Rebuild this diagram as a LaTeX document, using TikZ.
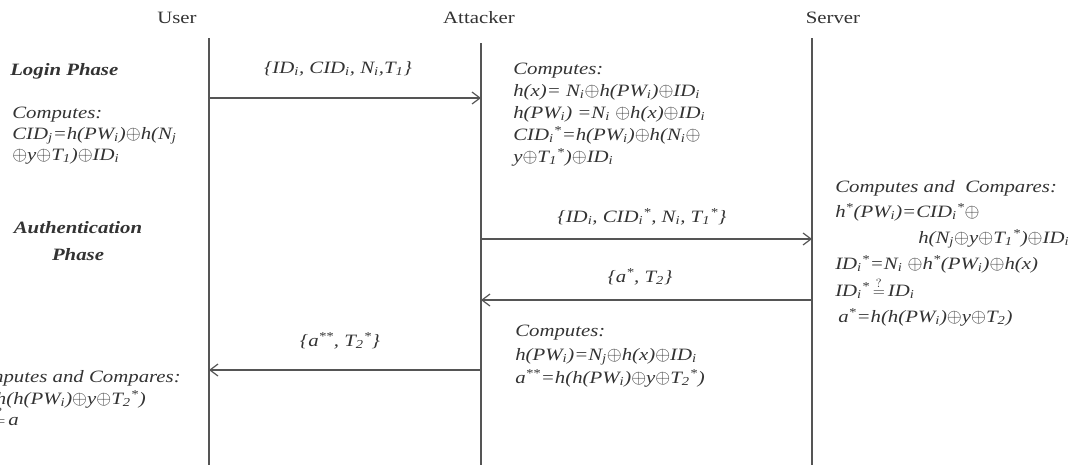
\documentclass[tikz,border=0pt]{standalone}
\usepackage{fontspec}
\setmainfont{Liberation Serif}[FakeStretch=1.2]
\usetikzlibrary{arrows.meta}
\definecolor{ink}{HTML}{333333}
\definecolor{ln}{HTML}{555555}
\newcommand\xo{\scalebox{1.2}{$\oplus$}}
\newcommand\mysub[1]{\textsubscript{#1}}
\newcommand\mysup[1]{\textsuperscript{#1}}
\newcommand\qeq{\,$\stackrel{?}{=}$\,}
\begin{document}
\begin{tikzpicture}[x=0.75pt,y=-0.75pt,
  txt/.style={inner sep=0pt, anchor=base west, text=ink, font=\fontsize{13}{16}\selectfont\itshape},
  hd/.style={txt, font=\fontsize{13}{16}\selectfont\bfseries\itshape},
  actor/.style={inner sep=0pt, anchor=base, text=ink, font=\fontsize{13}{16}\selectfont},
  lab/.style={txt, anchor=base},
  life/.style={draw=ln, line width=1pt},
  msg/.style={draw=ln, line width=1pt, -{Straight Barb[length=6pt,width=9pt,line width=0.9pt]}}]
\useasboundingbox (0,0) rectangle (1085,465);
\clip (0,0) rectangle (1085,465);
% actors
\node[actor] (user) at (177,23) {User};
\node[actor] (att) at (479,23) {Attacker};
\node[actor] (srv) at (833,23) {Server};
% lifelines
\coordinate (uT) at (209,38); \coordinate (uB) at (209,465);
\coordinate (aT) at (481,43); \coordinate (aB) at (481,465);
\coordinate (sT) at (812,38); \coordinate (sB) at (812,465);
\draw[life] (uT) -- (uB);
\draw[life] (aT) -- (aB);
\draw[life] (sT) -- (sB);
% message end points
\coordinate (u1) at (209,98);  \coordinate (a1) at (481,98);
\coordinate (a2) at (481,239); \coordinate (s2) at (812,239);
\coordinate (s3) at (812,300); \coordinate (a3) at (481,300);
\coordinate (a4) at (481,370); \coordinate (u4) at (209,370);
\draw[msg] (u1) -- (a1);
\draw[msg] (a2) -- (s2);
\draw[msg] (s3) -- (a3);
\draw[msg] (a4) -- (u4);
% message labels
\node[lab] (m1) at (338,73) {\{ID\mysub{i}, CID\mysub{i}, N\mysub{i},T\mysub{1}\}};
\node[lab] (m2) at (642,222) {\{ID\mysub{i}, CID\mysub{i}\mysup{*}, N\mysub{i}, T\mysub{1}\mysup{*}\}};
\node[lab] (m3) at (640,282) {\{a\mysup{*}, T\mysub{2}\}};
\node[lab] (m4) at (340,346) {\{a\mysup{**}, T\mysub{2}\mysup{*}\}};
% user side
\node[hd] (lp) at (10,75) {Login Phase};
\node[txt] (uc1) at (12,118) {Computes:};
\node[txt] (uc2) at (12,139) {CID\mysub{j}=h(PW\mysub{i})\xo h(N\mysub{j}};
\node[txt] (uc3) at (12,160) {\xo y\xo T\mysub{1})\xo ID\mysub{i}};
\node[hd, anchor=base] (ap1) at (78,233) {Authentication};
\node[hd, anchor=base] (ap2) at (78,260) {Phase};
\node[txt, anchor=base east] (uc4) at (181,382) {Computes and Compares:};
\node[txt, anchor=base east] (uc5) at (146,404) {a\mysup{**}=h(h(PW\mysub{i})\xo y\xo T\mysub{2}\mysup{*})};
\node[txt, anchor=base east] (uc6) at (19,425) {a\mysup{**}\qeq a};
% attacker block 1
\node[txt] (ac1) at (513,74) {Computes:};
\node[txt] (ac2) at (513,96) {h(x)= N\mysub{i}\xo h(PW\mysub{i})\xo ID\mysub{i}};
\node[txt] (ac3) at (513,118) {h(PW\mysub{i}) =N\mysub{i} \xo h(x)\xo ID\mysub{i}};
\node[txt] (ac4) at (513,140) {CID\mysub{i}\mysup{*}=h(PW\mysub{i})\xo h(N\mysub{i}\xo};
\node[txt] (ac5) at (513,162) {y\xo T\mysub{1}\mysup{*})\xo ID\mysub{i}};
% server block
\node[txt] (sc1) at (835,192) {Computes and\ \ Compares:};
\node[txt] (sc2) at (835,217) {h\mysup{*}(PW\mysub{i})=CID\mysub{i}\mysup{*}\xo};
\node[txt] (sc3) at (918,243) {h(N\mysub{j}\xo y\xo T\mysub{1}\mysup{*})\xo ID\mysub{i}};
\node[txt] (sc4) at (835,269) {ID\mysub{i}\mysup{*}=N\mysub{i} \xo h\mysup{*}(PW\mysub{i})\xo h(x)};
\node[txt] (sc5) at (835,296) {ID\mysub{i}\mysup{*}\qeq ID\mysub{i}};
\node[txt] (sc6) at (838,322) {a\mysup{*}=h(h(PW\mysub{i})\xo y\xo T\mysub{2})};
% attacker block 2
\node[txt] (ad1) at (515,336) {Computes:};
\node[txt] (ad2) at (515,360) {h(PW\mysub{i})=N\mysub{j}\xo h(x)\xo ID\mysub{i}};
\node[txt] (ad3) at (515,383) {a\mysup{**}=h(h(PW\mysub{i})\xo y\xo T\mysub{2}\mysup{*})};
\end{tikzpicture}
\end{document}
